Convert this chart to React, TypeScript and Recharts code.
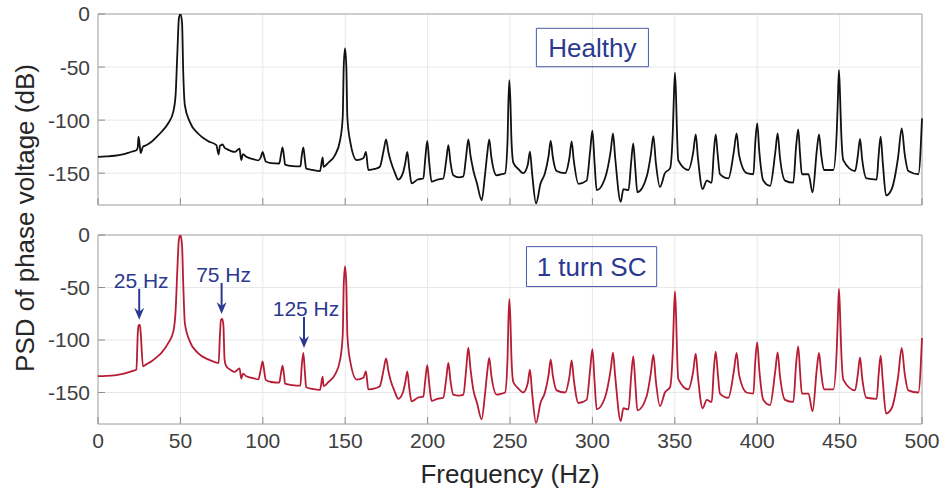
import React from "react";
import {
  LineChart,
  Line,
  XAxis,
  YAxis,
  CartesianGrid,
  ReferenceArea,
  ReferenceDot,
  Label,
} from "recharts";

// frequency grid (Hz); one line per stretch of the spectrum
const freqHz = [
  0, 5, 10, 15, 18.4, 21, 23.3, 24.1, 24.6, 25.4, 25.9, 27.3, 29.5, 32.5, 35.5, 38.6, 42.6, 45.7, 47.1, 48.1, 49.1, 50,
  51, 51.7, 52.7, 55.7, 60.7, 66.8, 71.8, 73.2, 74, 74.6, 75.4, 76.1, 76.8, 77.8, 80.5, 82.9, 85.9, 86.9, 88, 90, 94.7, 97.3,
  98.8, 99.9, 100.9, 101.8, 105, 110, 111, 112, 113, 113.5, 118, 122.8, 123.6, 124.6, 125.6, 126.3, 130, 134.7, 136.3, 136.9, 139.8, 143.8, 146.9, 148.5, 149.1, 149.9,
  150.7, 151.3, 152.9, 157, 161, 162.6, 164, 168, 171, 173.4, 174.8, 176.2, 177.5, 180, 182.2, 185, 186.5, 187.7, 188.9, 190.3, 194, 197.4, 198.6, 199.8,
  201, 202.4, 206, 209.5, 211.3, 212.6, 213.9, 215.6, 219, 221.7, 223.4, 224.7, 226, 227.7, 230, 232.8, 234.8, 236.1, 237.4, 238.7, 241.9, 245, 247, 248.5, 249, 249.6,
  250.3, 250.8, 252, 255, 258, 260.8, 262.1, 263.4, 265.8, 268.5, 271.2, 273.4, 274.7, 276, 278.3, 283.4, 286.1, 287.4, 288.7, 291.5, 296.5, 298.7, 300,
  301.3, 302.6, 307.6, 311.2, 312.5, 313.8, 317.2, 318.8, 321.9, 323.5, 324.8, 326, 327.3, 333, 335.5, 337, 338.5, 341, 344, 347.1, 348.8, 349.4, 350.1,
  350.8, 351.3, 352.1, 358.2, 361.2, 362.7, 364, 366.9, 369.4, 372.4, 373.6, 374.8, 376, 377.4, 382.5, 385.8, 387.5, 389, 393.6, 397.7, 398.8, 400,
  401.3, 403.7, 407.8, 411, 412.4, 413.8, 416.9, 421.9, 423.6, 424.9, 426, 427.1, 431.1, 433.6, 436.2, 437.5, 438.8, 440.5, 446.2, 448.3, 449, 449.6,
  450.3, 450.9, 452.3, 459.4, 461.1, 462.4, 463.7, 466.4, 472.5, 473.7, 474.9, 476.2, 478.2, 481.6, 485.5, 487.7, 489.5, 491.7, 497.8, 500,
];

// PSD, healthy machine (dB)
const healthyDb = [
  -134.6, -134.2, -133.6, -132.3, -130.8, -129.5, -128.3, -126, -115.7, -125, -131, -125, -123.5, -120.4, -116, -111, -103, -92, -76, -39, -4, 0,
  -8, -54, -86, -101.6, -112.6, -119.8, -123.6, -132.4, -124, -123.6, -123, -124, -126, -127, -129, -130, -127, -137.7, -132, -134.6, -137, -138,
  -135, -130, -135, -139, -140.5, -140.9, -133, -125.8, -136, -142, -143.4, -143.6, -134, -125.8, -138, -145.6, -147, -148.1, -135.2, -144, -140, -133, -119, -97, -50, -32.4,
  -50, -97, -119, -137.7, -136, -130, -147, -146, -144, -128, -118.2, -130, -138, -149, -156, -150, -140, -130, -146, -159.7, -156, -155, -136, -119.5,
  -140, -158, -156, -155, -138, -123.6, -140, -152, -154, -153, -134, -118.2, -133, -147, -160, -175.5, -152, -133, -118.2, -135, -152, -151, -150, -120, -85, -62.3,
  -85, -115, -140, -146, -150, -142, -129.7, -150, -178.5, -160, -150, -134, -119.5, -135, -148, -150, -135, -120, -138, -160, -157, -128, -110,
  -140, -166, -155, -128, -112.6, -135, -177, -165, -166, -140, -122, -145, -168, -153, -132, -115, -140, -163, -150, -145.5, -110, -80, -55.3,
  -80, -110, -137.8, -147, -130, -113.5, -135, -165, -157, -159, -132, -113.5, -132, -151, -155, -130, -112.6, -133, -150, -151, -122, -103,
  -130, -157, -162, -130, -112.6, -135, -157, -159, -125, -108.8, -132, -151, -151, -168, -128, -113.5, -132, -147, -147, -110, -78, -52.8,
  -78, -108, -138, -148, -133, -117.6, -137, -155, -156, -133, -115.6, -140, -171, -165, -135, -107.8, -132, -148, -151, -98.4,
];

// PSD, one-turn short circuit (dB)
const scDb = [
  -134.5, -134.2, -133.6, -132.3, -130.8, -129.5, -128.2, -95, -86, -85.5, -93, -125, -123, -120.3, -116.5, -112, -103, -92, -72, -35, -4, 0,
  -10, -45, -84, -101.3, -112.4, -118.5, -121.5, -122, -95, -81, -80, -86, -118.7, -125, -128.5, -130.4, -127, -136.8, -132, -134.5, -136.5, -137.5,
  -128, -120.3, -130, -138, -140, -140.5, -132, -124.4, -135, -141.5, -143, -143.5, -125, -112.4, -132, -145, -146.5, -147.5, -135, -144, -140, -133, -119, -95, -48, -30,
  -48, -95, -119, -137.7, -136, -130, -147, -146, -144, -127.5, -117.5, -129.5, -138, -149, -156, -150, -140, -130, -146, -158.5, -155, -154, -138, -124,
  -142, -158, -156, -155, -137, -121.9, -139, -152, -153, -152, -128, -107.3, -127, -147, -160, -175.5, -152, -132, -117, -134, -152, -151, -150, -118, -83, -60.8,
  -83, -113, -140, -146, -150, -141, -128.2, -150, -179, -160, -150, -133.5, -118.7, -134, -148, -150, -134.5, -119.5, -137.5, -160, -157, -127, -108.6,
  -139, -166, -155, -127, -112, -134, -177.3, -165, -166, -135, -115.6, -140, -167, -153, -131, -114, -139, -163, -150, -145, -108, -78, -53.8,
  -78, -108, -137, -147, -129.5, -113, -134.5, -165, -157, -159, -130, -111, -130, -151, -155, -130, -112.4, -133, -150, -151, -121, -102.2,
  -129, -157, -162, -129, -111.8, -134, -157, -159, -123, -106, -130, -151, -151, -168, -127, -112.4, -131, -147, -147, -108, -76, -51.3,
  -76, -106, -138, -148, -132, -116.5, -136, -155, -156, -132.5, -115, -139, -170, -165, -135, -107.6, -132, -148, -150, -98.1,
];

const xTicks = [0, 50, 100, 150, 200, 250, 300, 350, 400, 450, 500];
const yTicks = [-150, -100, -50, 0];

const noteFreqs = [25, 75, 125];
const noteTexts = ["25 Hz", "75 Hz", "125 Hz"];

const FONT = '"Liberation Sans", Arial, Helvetica, sans-serif';
const NOTE_BLUE = "#2b3990";
const BOX_BLUE = "#4b5aa8";
const AXIS_GRAY = "#a8a8a8";
const GRID_GRAY = "#e8e8e8";
const TICK_TEXT = "#404040";

const healthyData = freqHz.map((f, i) => ({ f, v: healthyDb[i] }));
const scData = freqHz.map((f, i) => ({ f, v: scDb[i] }));

// highest sc value near a frequency, used to place the arrows
const peakNear = (f0: number) => {
  let best = -Infinity;
  freqHz.forEach((f, i) => {
    if (Math.abs(f - f0) <= 1.5 && scDb[i] > best) best = scDb[i];
  });
  return best;
};

const ArrowNote = (props: any) => {
  const { cx, cy, text } = props;
  const tip = cy - 5;
  const tail = tip - 31;
  return (
    <g>
      <text
        x={cx + 2}
        y={tail - 1}
        textAnchor="middle"
        fontSize={21}
        fontFamily={FONT}
        fill={NOTE_BLUE}
      >
        {text}
      </text>
      <line x1={cx} y1={tail} x2={cx} y2={tip - 6} stroke={NOTE_BLUE} strokeWidth={2} />
      <path
        d={`M${cx - 5},${tip - 12} L${cx},${tip} L${cx + 5},${tip - 12} L${cx},${tip - 8} Z`}
        fill={NOTE_BLUE}
      />
    </g>
  );
};

const emptyTick = () => <g />;

const tickStyle = { fill: TICK_TEXT, fontSize: 21, fontFamily: FONT };

export default function App() {
  return (
    <div
      style={{
        position: "absolute",
        left: 0,
        top: 0,
        width: 945,
        height: 493,
        background: "#fff",
        fontFamily: FONT,
      }}
    >
      {/* top panel: healthy */}
      <div style={{ position: "absolute", left: 0, top: 0 }}>
        <LineChart
          width={945}
          height={215}
          data={healthyData}
          margin={{ top: 14, right: 23, bottom: 0, left: 8 }}
        >
          <CartesianGrid stroke={GRID_GRAY} />
          <XAxis
            dataKey="f"
            type="number"
            domain={[0, 500]}
            ticks={xTicks}
            height={10}
            axisLine={false}
            tick={emptyTick}
            tickLine={{ stroke: "#8c8c8c" }}
            tickSize={-7}
          />
          <YAxis
            type="number"
            domain={[-180, 0]}
            ticks={yTicks}
            width={90}
            allowDataOverflow
            axisLine={false}
            tickLine={{ stroke: "#8c8c8c" }}
            tickSize={-7}
            tickMargin={15}
            tick={tickStyle}
          />
          <ReferenceArea
            x1={0}
            x2={500}
            y1={-180}
            y2={0}
            fill="none"
            stroke={AXIS_GRAY}
            strokeWidth={1}
          />
          <ReferenceArea
            x1={266}
            x2={334}
            y1={-49.7}
            y2={-13.5}
            fill="#fff"
            fillOpacity={0}
            stroke={BOX_BLUE}
            strokeWidth={1}
            label={{
              value: "Healthy",
              position: "center",
              fill: NOTE_BLUE,
              fontSize: 26,
              fontFamily: FONT,
            }}
          />
          <Line
            dataKey="v"
            type="monotone"
            stroke="#111"
            strokeWidth={1.8}
            dot={false}
            isAnimationActive={false}
          />
        </LineChart>
      </div>

      {/* bottom panel: 1 turn short circuit */}
      <div style={{ position: "absolute", left: 0, top: 220 }}>
        <LineChart
          width={945}
          height={273}
          data={scData}
          margin={{ top: 15, right: 23, bottom: 9, left: 8 }}
        >
          <CartesianGrid stroke={GRID_GRAY} />
          <XAxis
            dataKey="f"
            type="number"
            domain={[0, 500]}
            ticks={xTicks}
            height={60}
            axisLine={false}
            tickLine={{ stroke: "#8c8c8c" }}
            tickSize={-7}
            tickMargin={16}
            tick={tickStyle}
          >
            <Label
              value="Frequency (Hz)"
              position="insideBottom"
              offset={1}
              fill="#262626"
              fontSize={26}
              fontFamily={FONT}
            />
          </XAxis>
          <YAxis
            type="number"
            domain={[-180, 0]}
            ticks={yTicks}
            width={90}
            allowDataOverflow
            axisLine={false}
            tickLine={{ stroke: "#8c8c8c" }}
            tickSize={-7}
            tickMargin={15}
            tick={tickStyle}
          />
          <ReferenceArea
            x1={0}
            x2={500}
            y1={-180}
            y2={0}
            fill="none"
            stroke={AXIS_GRAY}
            strokeWidth={1}
          />
          <ReferenceArea
            x1={260}
            x2={339}
            y1={-49.1}
            y2={-11.1}
            fill="#fff"
            fillOpacity={0}
            stroke={BOX_BLUE}
            strokeWidth={1}
            label={{
              value: "1 turn SC",
              position: "center",
              fill: NOTE_BLUE,
              fontSize: 26,
              fontFamily: FONT,
            }}
          />
          <Line
            dataKey="v"
            type="monotone"
            stroke="#b71c34"
            strokeWidth={1.8}
            dot={false}
            isAnimationActive={false}
          />
          {noteFreqs.map((f, i) => (
            <ReferenceDot
              key={f}
              x={f}
              y={peakNear(f)}
              r={1}
              shape={(p: any) => <ArrowNote {...p} text={noteTexts[i]} />}
            />
          ))}
        </LineChart>
      </div>

      {/* shared y label */}
      <svg
        width={60}
        height={493}
        style={{ position: "absolute", left: 0, top: 0, overflow: "visible" }}
      >
        <text
          x={0}
          y={0}
          transform="translate(27,218) rotate(-90)"
          textAnchor="middle"
          dominantBaseline="middle"
          fontSize={26}
          fontFamily={FONT}
          fill="#262626"
        >
          PSD of phase voltage (dB)
        </text>
      </svg>
    </div>
  );
}
